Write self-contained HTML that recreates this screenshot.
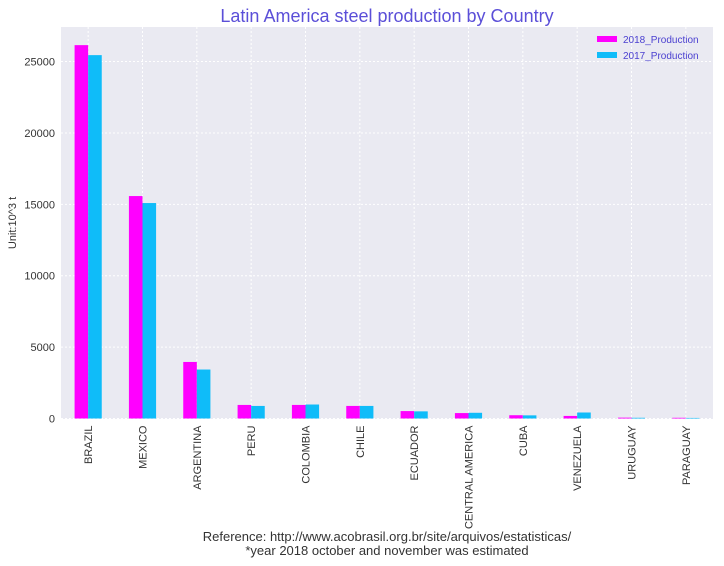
<!DOCTYPE html>
<html><head><meta charset="utf-8"><style>
body{margin:0;background:#fff;font-family:"Liberation Sans",sans-serif}
</style></head><body>
<svg id="c" width="724" height="561" xmlns="http://www.w3.org/2000/svg">
<rect x="0" y="0" width="724" height="561" fill="#fff"/>
<rect x="61" y="27" width="652" height="392" fill="#eaeaf2"/>
<g id="grid"></g><g id="bars"></g><g id="axes"></g>
<text x="387" y="22" text-anchor="middle" font-size="18" fill="#5b4fd8">Latin America steel production by Country</text>
<text x="16" y="223" text-anchor="middle" font-size="11" fill="#333" transform="rotate(-90 16 223)">Unit:10^3 t</text>
<g>
<rect x="597" y="36" width="20" height="6" fill="#ff00ff"/>
<text x="623" y="43" font-size="10" fill="#4a3fd0">2018_Production</text>
<rect x="597" y="52" width="20" height="6" fill="#0fbcf9"/>
<text x="623" y="59" font-size="10" fill="#4a3fd0">2017_Production</text>
</g>
<text x="387" y="541" text-anchor="middle" font-size="13" fill="#333">Reference: http://www.acobrasil.org.br/site/arquivos/estatisticas/</text>
<text x="387" y="555" text-anchor="middle" font-size="13" fill="#333">*year 2018 october and november was estimated</text>
</svg>
<script>
const categories=["BRAZIL","MEXICO","ARGENTINA","PERU","COLOMBIA","CHILE","ECUADOR","CENTRAL AMERICA","CUBA","VENEZUELA","URUGUAY","PARAGUAY"];
const prod2018=[26150,15580,3960,950,950,880,520,380,230,180,60,50];
const prod2017=[25450,15090,3430,880,980,880,500,400,220,420,50,40];
const yTicks=[0,5000,10000,15000,20000,25000];
const NS="http://www.w3.org/2000/svg";
const L=61,R=713,T=27,B=418.5,yMax=27420;
const y=v=>B-(v/yMax)*(B-T);
const step=(R-L)/categories.length;
const xc=i=>L+step*(i+0.5);
function mk(tag,attrs,parent){const e=document.createElementNS(NS,tag);for(const k in attrs)e.setAttribute(k,attrs[k]);parent.appendChild(e);return e;}
const grid=document.getElementById('grid'),bars=document.getElementById('bars'),axes=document.getElementById('axes');
yTicks.forEach(t=>{
 const l=mk('line',{x1:L,x2:R,y1:y(t),y2:y(t),stroke:'#fff','stroke-dasharray':'2,2'},grid);
 
 
 const tx=mk('text',{x:L-6,y:y(t)+4,'text-anchor':'end','font-size':11,fill:'#333'},axes);
 tx.textContent=t;
 
 
});
const bw=step*0.25;
categories.forEach((c,i)=>{
 const gl=mk('line',{x1:xc(i),x2:xc(i),y1:T,y2:B,stroke:'#fff','stroke-dasharray':'2,2'},grid);
 
 
 const b1=mk('rect',{x:xc(i)-bw,y:y(prod2018[i]),width:bw,height:B-y(prod2018[i]),fill:'#ff00ff'},bars);
 
 
 const b2=mk('rect',{x:xc(i),y:y(prod2017[i]),width:bw,height:B-y(prod2017[i]),fill:'#0fbcf9'},bars);
 
 
 const tx=mk('text',{x:0,y:0,'text-anchor':'end','font-size':11,fill:'#333',transform:`translate(${xc(i)+4},${B+7}) rotate(-90)`},axes);
 tx.textContent=c;
 
 
});
</script>
</body></html>
